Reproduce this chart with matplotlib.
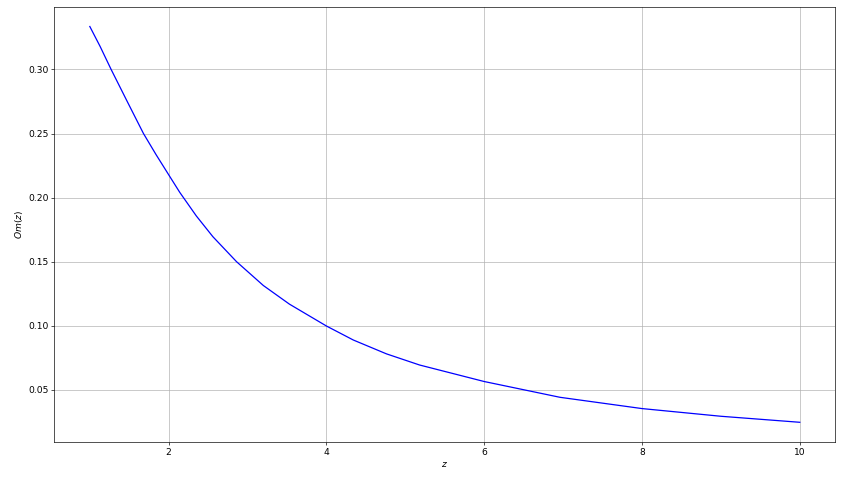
import matplotlib

matplotlib.use("Agg")
import matplotlib.pyplot as plt

# values
z_values = [1.0, 1.13, 1.27, 1.47, 1.68, 1.84, 2.0, 2.14, 2.35, 2.56, 2.86,
            3.2, 3.53, 4.0, 4.34, 4.76, 5.18, 6.0, 6.96, 8.0, 9.0, 10.0]
om_values = [0.3335, 0.3180, 0.300, 0.2755, 0.250, 0.2335, 0.2178, 0.2041,
             0.1857, 0.1695, 0.150, 0.1314, 0.1169, 0.0998, 0.0889, 0.0781,
             0.0694, 0.0565, 0.0442, 0.0354, 0.0294, 0.0247]

plt.rcParams["font.size"] = 11

fig, ax = plt.subplots(figsize=(841 / 60, 8), dpi=60)
fig.subplots_adjust(left=0.0646, right=0.9932, top=0.986, bottom=0.079)

ax.plot(z_values, om_values, color="blue", linewidth=1.5)
ax.set_xlabel("$z$")
ax.set_ylabel("$Om(z)$")
ax.grid(True)

fig.savefig("out.png", dpi=60)
